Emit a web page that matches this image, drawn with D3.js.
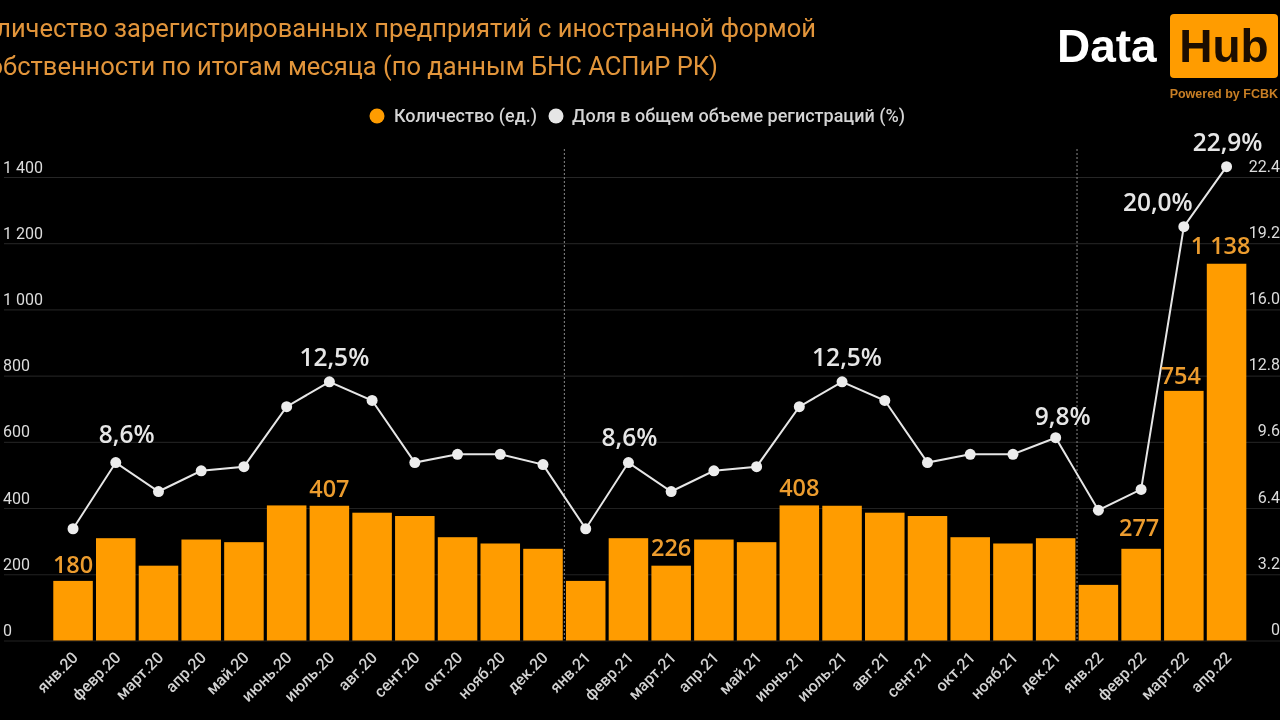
<!DOCTYPE html>
<html>
<head>
<meta charset="utf-8">
<script src="https://cdn.jsdelivr.net/npm/d3@7"></script>
<style>
  html, body { margin: 0; background: #000; overflow: hidden; }
  svg { display: block; }
  text { font-family: Roboto, sans-serif; }
</style>
</head>
<body>
<svg id="chart" width="1280" height="720"></svg>
<script>
var months = ["янв.20","февр.20","март.20","апр.20","май.20","июнь.20","июль.20","авг.20","сент.20","окт.20","нояб.20","дек.20",
              "янв.21","февр.21","март.21","апр.21","май.21","июнь.21","июль.21","авг.21","сент.21","окт.21","нояб.21","дек.21",
              "янв.22","февр.22","март.22","апр.22"];
var counts = [180,309,226,305,297,408,407,386,376,312,293,277,
              180,309,226,305,297,408,407,386,376,312,293,309,
              168,277,754,1138];
var shares = [5.4,8.6,7.2,8.2,8.4,11.3,12.5,11.6,8.6,9.0,9.0,8.5,
              5.4,8.6,7.2,8.2,8.4,11.3,12.5,11.6,8.6,9.0,9.0,9.8,
              6.3,7.3,20.0,22.9];
var countTicks = [0,200,400,600,800,1000,1200,1400];
var shareTicks = [0,3.2,6.4,9.6,12.8,16.0,19.2,22.4];
var labelledCounts = ["янв.20","июль.20","март.21","июнь.21","февр.22","март.22","апр.22"];
var labelledShares = ["февр.20","июль.20","февр.21","июль.21","дек.21","март.22","апр.22"];
var yearStarts = ["янв.21","янв.22"];
var titleLines = ["Количество зарегистрированных предприятий с иностранной формой",
                  "собственности по итогам месяца (по данным БНС АСПиР РК)"];

var orange = "#ff9c05";
var svg = d3.select("#chart");

svg.append("defs").append("filter").attr("id", "soft")
    .append("feGaussianBlur").attr("stdDeviation", 0.5);
var root = svg.append("g").attr("filter", "url(#soft)");

var x = d3.scaleBand().domain(months).range([52, 1247.6]).paddingInner(0.075).paddingOuter(0.03);
var y = d3.scaleLinear().domain([0, 1400]).range([640.5, 177]);
var yShare = d3.scaleLinear().domain([0, 22.4]).range([640.5, 177]);
var cx = function(m) { return x(m) + x.bandwidth() / 2; };

// title, clipped on the left like the source screenshot
root.selectAll(".title").data(titleLines).enter().append("text")
    .attr("class", "title")
    .attr("x", function(d, i) { return i == 0 ? 816 : 718; })
    .attr("text-anchor", "end")
    .attr("y", function(d, i) { return 37 + i * 38; })
    .attr("fill", "#e2953a")
    .style("font-size", "25.5px")
    .text(function(d) { return d; });

// logo
root.append("text").attr("x", 1057).attr("y", 62).attr("fill", "#fff")
    .style("font-size", "46px").style("font-weight", 700).style("font-family", "Liberation Sans, sans-serif").text("Data");
root.append("rect").attr("x", 1170).attr("y", 14).attr("width", 108).attr("height", 64).attr("rx", 4).attr("fill", orange);
root.append("text").attr("x", 1224).attr("y", 62).attr("text-anchor", "middle").attr("fill", "#1a0d00")
    .style("font-size", "46px").style("font-weight", 700).style("font-family", "Liberation Sans, sans-serif").text("Hub");
root.append("text").attr("x", 1278).attr("y", 98).attr("text-anchor", "end").attr("fill", "#c87f25")
    .style("font-size", "12.5px").style("font-weight", 700).style("font-family", "Liberation Sans, sans-serif").text("Powered by FCBK");

// legend
var legend = [{ name: "Количество (ед.)", color: orange, cx: 377, tx: 394 },
              { name: "Доля в общем объеме регистраций (%)", color: "#e6e6e6", cx: 556, tx: 572 }];
var lg = root.selectAll(".lg").data(legend).enter().append("g").attr("class", "lg");
lg.append("circle").attr("cx", function(d) { return d.cx; }).attr("cy", 116).attr("r", 7.5)
    .attr("fill", function(d) { return d.color; });
lg.append("text").attr("x", function(d) { return d.tx; }).attr("y", 122).attr("fill", "#d4d4d4")
    .style("font-size", "18px").style("font-weight", 500).text(function(d) { return d.name; });

// left axis, labels sit above the gridlines
var axisL = d3.axisRight(y).tickValues(countTicks).tickSize(1280)
    .tickFormat(function(d) { return d3.format(",")(d).replace(",", " "); });
var gL = root.append("g").call(axisL);
gL.select(".domain").remove();
gL.selectAll("line").attr("stroke", "#262626").attr("x1", 4);
gL.selectAll("text").attr("x", 3).attr("dy", "-5").attr("text-anchor", "start")
    .attr("fill", "#dcdcdc").style("font-size", "16px");

// right axis
var axisR = d3.axisLeft(yShare).tickValues(shareTicks).tickSize(0)
    .tickFormat(function(d) { return d == 0 ? "0" : d3.format(".1f")(d); });
var gR = root.append("g").attr("transform", "translate(1280,0)").call(axisR);
gR.select(".domain").remove();
gR.selectAll("text").attr("x", 0).attr("dy", "-6").attr("text-anchor", "end")
    .attr("fill", "#dcdcdc").style("font-size", "16px");

// bars
root.selectAll(".bar").data(months).enter().append("rect")
    .attr("class", "bar")
    .attr("x", function(m) { return x(m); })
    .attr("width", x.bandwidth())
    .attr("y", function(m, i) { return y(counts[i]); })
    .attr("height", function(m, i) { return y(0) - y(counts[i]); })
    .attr("fill", orange);

// year separators
root.selectAll(".sep").data(yearStarts).enter().append("line")
    .attr("class", "sep")
    .attr("x1", function(m) { return x(m) - x.step() * x.paddingInner() / 2; })
    .attr("x2", function(m) { return x(m) - x.step() * x.paddingInner() / 2; })
    .attr("y1", 149).attr("y2", 640)
    .attr("stroke", "#8a8a8a").attr("stroke-width", 1).attr("stroke-dasharray", "2 2");

// x axis
var gX = root.append("g").attr("transform", "translate(0,640.5)")
    .call(d3.axisBottom(x).tickSize(0));
gX.select(".domain").remove();
gX.selectAll("text")
    .attr("transform", "translate(2,14) rotate(-45)")
    .attr("x", 0).attr("y", 0).attr("dy", "0.35em")
    .attr("text-anchor", "end")
    .attr("fill", "#d2d2d2")
    .style("font-size", "16px").style("font-weight", 500);

// share line
var line = d3.line().x(function(d, i) { return cx(months[i]); }).y(function(d) { return yShare(d); });
root.append("path").datum(shares).attr("d", line)
    .attr("fill", "none").attr("stroke", "#e6e6e6").attr("stroke-width", 2);
root.selectAll(".pt").data(shares).enter().append("circle")
    .attr("class", "pt")
    .attr("cx", function(d, i) { return cx(months[i]); })
    .attr("cy", function(d) { return yShare(d); })
    .attr("r", 5.5).attr("fill", "#ececec");

// value labels
var countShift = { "янв.20": [0, -8], "июль.20": [0, -9], "март.21": [0, -10], "июнь.21": [0, -9],
                   "февр.22": [-2, -13], "март.22": [-3, -7], "апр.22": [-6, -10] };
root.selectAll(".cl").data(labelledCounts).enter().append("text")
    .attr("class", "cl")
    .attr("x", function(m) { return cx(m) + countShift[m][0]; })
    .attr("y", function(m) { return y(counts[months.indexOf(m)]) + countShift[m][1]; })
    .attr("text-anchor", "middle").attr("fill", "#ec9c2e")
    .style("font-family", "Open Sans, sans-serif").style("font-size", "23.5px").style("font-weight", 600)
    .text(function(m) { return d3.format(",")(counts[months.indexOf(m)]).replace(",", " "); });

var shareShift = { "февр.20": [11, -20], "февр.21": [1, -17], "июль.20": [5, -16], "июль.21": [5, -16],
                   "дек.21": [7, -13], "март.22": [-26, -16], "апр.22": [1, -16] };
root.selectAll(".sl").data(labelledShares).enter().append("text")
    .attr("class", "sl")
    .attr("x", function(m) { return cx(m) + shareShift[m][0]; })
    .attr("y", function(m) { return yShare(shares[months.indexOf(m)]) + shareShift[m][1]; })
    .attr("text-anchor", "middle").attr("fill", "#e6e6e6")
    .style("font-family", "Open Sans, sans-serif").style("font-size", "24.5px").style("font-weight", 600)
    .text(function(m) { return d3.format(".1f")(shares[months.indexOf(m)]).replace(".", ",") + "%"; });
</script>
</body>
</html>
